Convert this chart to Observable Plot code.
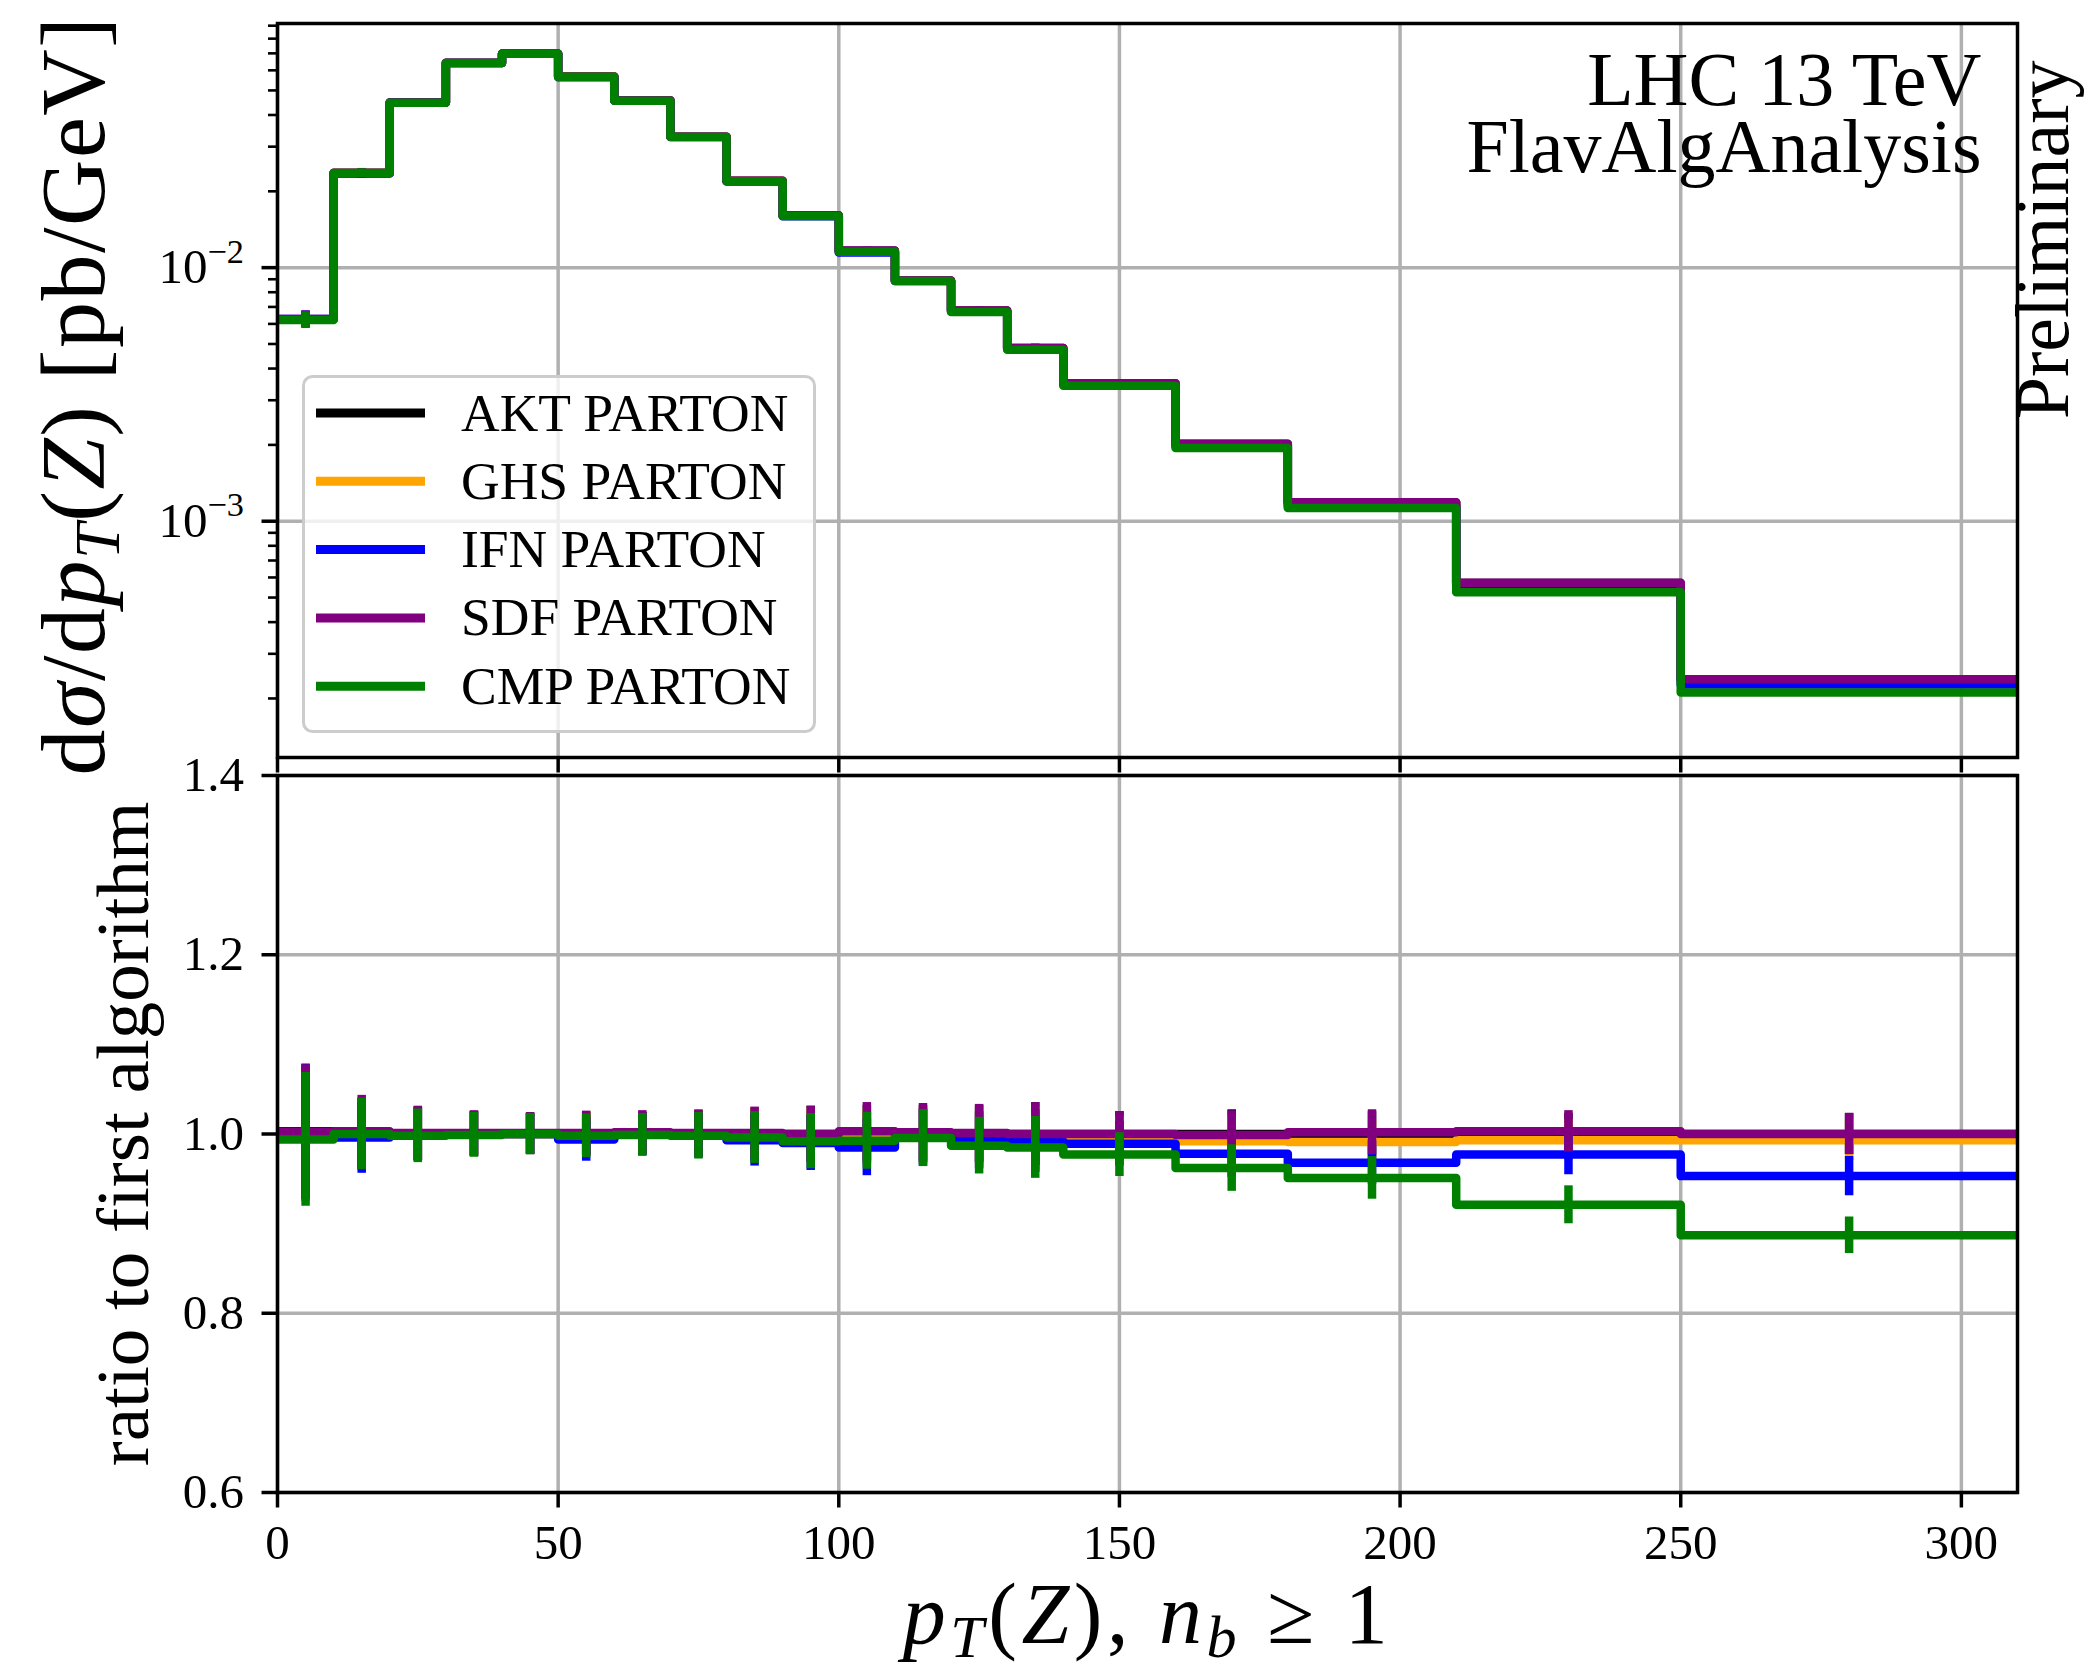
<!DOCTYPE html>
<html>
<head>
<meta charset="utf-8">
<script src="https://cdn.jsdelivr.net/npm/d3@7"></script>
<script src="https://cdn.jsdelivr.net/npm/@observablehq/plot@0.6"></script>
<style>
  html, body { margin: 0; padding: 0; background: #fff; }
  #fig { position: relative; width: 2085px; height: 1677px; overflow: hidden; background: #fff; font-family: "Liberation Serif", serif; }
  .layer { position: absolute; left: 0; width: 2085px; }
</style>
</head>
<body>
<div id="fig"></div>
<script>
// ---------------- data ----------------
const binEdges = [0, 10, 20, 30, 40, 50, 60, 70, 80, 90, 100, 110, 120, 130, 140, 160, 180, 210, 250, 310];

// first algorithm (AKT PARTON) dσ/dpT in pb/GeV
const aktValues = [0.00626, 0.0236, 0.0448, 0.0642, 0.0698, 0.0567, 0.0456, 0.0328, 0.0220, 0.0161,
                   0.01165, 0.00889, 0.00677, 0.00482, 0.00350, 0.00202, 0.001185, 0.000570, 0.000238];

// relative statistical uncertainty per bin
const relErrors = [0.075, 0.040, 0.030, 0.025, 0.023, 0.0245, 0.024, 0.026, 0.029, 0.031,
                   0.032, 0.032, 0.032, 0.035, 0.025, 0.027, 0.025, 0.023, 0.023];

// ratio to first algorithm
const ratioAKT = [1, 1, 1, 1, 1, 1, 1, 1, 1, 1, 1, 1, 1, 1, 1, 1, 1, 1, 1];
const ratioGHS = [1.000, 1.000, 1.000, 1.000, 1.000, 1.000, 1.000, 1.000, 0.999, 0.998,
                  0.997, 0.998, 0.996, 0.995, 0.995, 0.992, 0.991, 0.993, 0.993];
const ratioIFN = [1.003, 0.996, 1.000, 1.000, 1.000, 0.994, 1.000, 0.999, 0.993, 0.990,
                  0.985, 0.996, 0.993, 0.992, 0.989, 0.978, 0.968, 0.977, 0.953];
const ratioSDF = [1.002, 1.003, 1.001, 1.001, 1.001, 1.001, 1.002, 1.001, 1.001, 1.000,
                  1.003, 1.002, 1.001, 1.000, 1.000, 0.999, 1.002, 1.003, 1.000];
const ratioCMP = [0.994, 1.000, 0.998, 0.999, 1.000, 0.998, 0.999, 0.998, 0.996, 0.992,
                  0.9925, 0.9955, 0.987, 0.985, 0.977, 0.962, 0.951, 0.921, 0.887];

const seriesNames  = ["AKT PARTON", "GHS PARTON", "IFN PARTON", "SDF PARTON", "CMP PARTON"];
const seriesColors = ["black", "orange", "blue", "purple", "green"];
const seriesRatios = [ratioAKT, ratioGHS, ratioIFN, ratioSDF, ratioCMP];

// axis ticks
const xTicks = [0, 50, 100, 150, 200, 250, 300];
const yTopMajorTicks = [1e-3, 1e-2];
const yTopMinorTicks = [2e-4, 3e-4, 4e-4, 5e-4, 6e-4, 7e-4, 8e-4, 9e-4,
                        2e-3, 3e-3, 4e-3, 5e-3, 6e-3, 7e-3, 8e-3, 9e-3,
                        2e-2, 3e-2, 4e-2, 5e-2, 6e-2, 7e-2, 8e-2, 9e-2];
const yRatioTicks = [0.6, 0.8, 1.0, 1.2, 1.4];

// ---------------- helpers ----------------
const FONT = '"Liberation Serif", "DejaVu Serif", serif';
const LW = 8.5;
const TICK_FONT = 49;
const GRID = {stroke: "#b0b0b0", strokeOpacity: 1, strokeWidth: 3.5};

function stepRows(vals) {
  const rows = vals.map((v, i) => ({x: binEdges[i], y: v}));
  rows.push({x: binEdges[binEdges.length - 1], y: vals[vals.length - 1]});
  return rows;
}
function errRows(vals) {
  return vals.map((v, i) => ({
    x: (binEdges[i] + binEdges[i + 1]) / 2,
    y1: v * (1 - relErrors[i]),
    y2: v * (1 + relErrors[i])
  }));
}
function seriesMarks(valuesFor) {
  const marks = [];
  seriesNames.forEach((name, s) => {
    const vals = valuesFor(s);
    marks.push(Plot.line(stepRows(vals), {x: "x", y: "y", curve: "step-after", stroke: seriesColors[s],
      strokeWidth: LW, strokeLinejoin: "round", strokeLinecap: "butt", clip: true}));
    marks.push(Plot.ruleX(errRows(vals), {x: "x", y1: "y1", y2: "y2", stroke: seriesColors[s],
      strokeWidth: LW, strokeLinecap: "butt", clip: true}));
  });
  return marks;
}

// rich text (italic / sub / superscript) inside Plot-made <text> elements
function richify(svg, plain, parts, fontSize, letterSpacing) {
  for (const t of svg.querySelectorAll("text")) {
    if (t.textContent !== plain) continue;
    while (t.firstChild) t.removeChild(t.firstChild);
    if (letterSpacing) t.setAttribute("letter-spacing", letterSpacing);
    let shift = 0;
    for (const p of parts) {
      const ts = document.createElementNS("http://www.w3.org/2000/svg", "tspan");
      const target = p.sub ? 0.17 * fontSize : p.sup ? -0.42 * fontSize : 0;
      if (target !== shift) ts.setAttribute("dy", (target - shift).toFixed(2));
      shift = target;
      if (p.sub || p.sup) ts.setAttribute("font-size", (0.7 * fontSize).toFixed(1) + "px");
      if (p.it) ts.setAttribute("font-style", "italic");
      ts.textContent = p.t;
      t.appendChild(ts);
    }
  }
}

const fig = document.getElementById("fig");
function place(el, top) {
  const d = document.createElement("div");
  d.className = "layer";
  d.style.top = top + "px";
  d.appendChild(el);
  fig.appendChild(d);
}

// ---------------- top panel ----------------
const TOP_LABEL = "dσ/dpT(Z) [pb/GeV]";
const topPlot = Plot.plot({
  width: 2085, height: 775,
  marginLeft: 277, marginRight: 68, marginTop: 23, marginBottom: 18,
  style: {fontFamily: FONT, background: "transparent", overflow: "visible"},
  x: {type: "linear", domain: [0, 310], label: null},
  y: {type: "log", domain: [1.17e-4, 0.0918], label: null},
  marks: [
    Plot.gridX(xTicks, GRID),
    Plot.gridY(yTopMajorTicks, GRID),
    ...seriesMarks(s => aktValues.map((v, i) => v * seriesRatios[s][i])),
    Plot.frame({stroke: "black", strokeWidth: 3.5}),
    Plot.axisY(yTopMinorTicks, {tickSize: 9, strokeWidth: 2.6, tickFormat: () => "", label: null}),
    Plot.axisY(yTopMajorTicks, {tickSize: 15.5, tickPadding: 18, strokeWidth: 3.5, fontSize: TICK_FONT,
      tickFormat: d => "10^" + Math.round(Math.log10(d)), label: null}),
    Plot.axisX(xTicks, {tickSize: 15.5, strokeWidth: 3.5, tickFormat: () => "", label: null}),
    Plot.text(["LHC 13 TeV\nFlavAlgAnalysis"], {text: d => d, frameAnchor: "top-right", textAnchor: "end",
      lineAnchor: "bottom", lineHeight: 0.88, dx: -36, dy: 148, fontSize: 76}),
    Plot.text(["Preliminary"], {text: d => d, frameAnchor: "top-right", textAnchor: "end", lineAnchor: "bottom",
      rotate: -90, dx: 50, dy: 37, fontSize: 76}),
    Plot.text([TOP_LABEL], {text: d => d, frameAnchor: "left", textAnchor: "middle", lineAnchor: "bottom",
      rotate: -90, dx: -174, dy: 5, fontSize: 92})
  ]
});
richify(topPlot, "10^-2", [{t: "10"}, {t: "−2", sup: 1}], TICK_FONT);
richify(topPlot, "10^-3", [{t: "10"}, {t: "−3", sup: 1}], TICK_FONT);
richify(topPlot, TOP_LABEL, [{t: "d"}, {t: "σ", it: 1}, {t: "/d"}, {t: "p", it: 1}, {t: "T", it: 1, sub: 1},
  {t: "("}, {t: "Z", it: 1}, {t: ") [pb/GeV]"}], 92, 1.5);
place(topPlot, 0);

// ---------------- ratio panel ----------------
const X_LABEL = "pT(Z), nb ≥ 1";
const ratioPlot = Plot.plot({
  width: 2085, height: 912,
  marginLeft: 277, marginRight: 68, marginTop: 10, marginBottom: 185,
  style: {fontFamily: FONT, background: "transparent", overflow: "visible"},
  x: {type: "linear", domain: [0, 310], label: null},
  y: {type: "linear", domain: [0.6, 1.4], label: null},
  marks: [
    Plot.gridX(xTicks, GRID),
    Plot.gridY(yRatioTicks, GRID),
    ...seriesMarks(s => seriesRatios[s]),
    Plot.frame({stroke: "black", strokeWidth: 3.5}),
    Plot.axisY(yRatioTicks, {tickSize: 15.5, tickPadding: 18, strokeWidth: 3.5, fontSize: TICK_FONT,
      tickFormat: d => d.toFixed(1), label: null}),
    Plot.axisX(xTicks, {tickSize: 15.5, tickPadding: 16, strokeWidth: 3.5, fontSize: TICK_FONT,
      tickFormat: d => String(d), label: null}),
    Plot.text(["ratio to first algorithm"], {text: d => d, frameAnchor: "left", textAnchor: "middle",
      lineAnchor: "bottom", rotate: -90, dx: -130, fontSize: 75}),
    Plot.text([X_LABEL], {text: d => d, frameAnchor: "bottom", textAnchor: "middle", lineAnchor: "bottom",
      dy: 150, fontSize: 86})
  ]
});
richify(ratioPlot, X_LABEL, [{t: "p", it: 1}, {t: "T", it: 1, sub: 1}, {t: "("}, {t: "Z", it: 1}, {t: "), "},
  {t: "n", it: 1}, {t: "b", it: 1, sub: 1}, {t: " ≥ 1"}], 86, 4.5);
place(ratioPlot, 765);

// ---------------- legend (inside top panel) ----------------
(function legend() {
  const NS = "http://www.w3.org/2000/svg";
  const W = 514, H = 358;
  const box = document.createElement("div");
  box.style.cssText = `position:absolute;left:302px;top:375px;width:${W}px;height:${H}px;`;
  const svg = document.createElementNS(NS, "svg");
  svg.setAttribute("width", W); svg.setAttribute("height", H);
  svg.style.overflow = "visible";
  const rect = document.createElementNS(NS, "rect");
  rect.setAttribute("x", 1.5); rect.setAttribute("y", 1.5);
  rect.setAttribute("width", W - 3); rect.setAttribute("height", H - 3);
  rect.setAttribute("rx", 9); rect.setAttribute("fill", "rgba(255,255,255,0.8)");
  rect.setAttribute("stroke", "#cccccc"); rect.setAttribute("stroke-width", 3);
  svg.appendChild(rect);
  seriesNames.forEach((name, i) => {
    const cy = 38 + i * 68.3;
    const ln = document.createElementNS(NS, "line");
    ln.setAttribute("x1", 14); ln.setAttribute("x2", 123);
    ln.setAttribute("y1", cy); ln.setAttribute("y2", cy);
    ln.setAttribute("stroke", seriesColors[i]); ln.setAttribute("stroke-width", LW + 0.5);
    svg.appendChild(ln);
    const tx = document.createElementNS(NS, "text");
    tx.setAttribute("x", 159); tx.setAttribute("y", cy + 17.5);
    tx.setAttribute("font-family", FONT); tx.setAttribute("font-size", 53.5);
    tx.textContent = name;
    svg.appendChild(tx);
  });
  box.appendChild(svg);
  fig.appendChild(box);
})();
</script>
</body>
</html>
